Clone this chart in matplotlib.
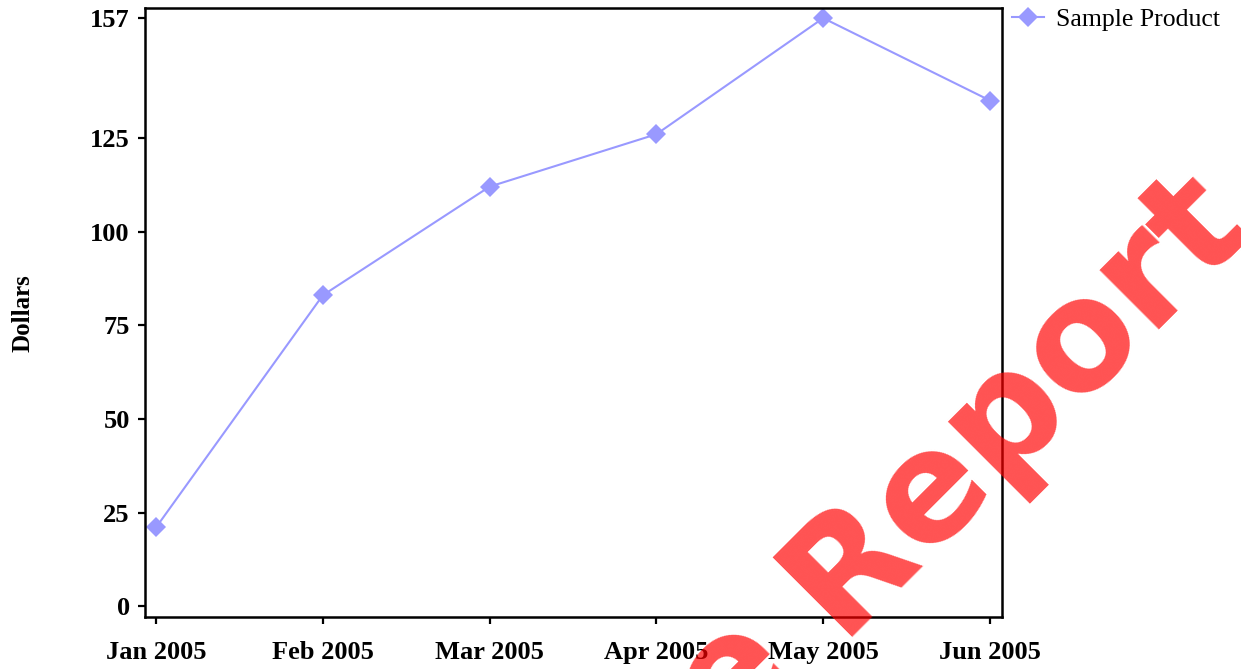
import numpy as np
import matplotlib.pyplot as plt

months = ["Jan 2005", "Feb 2005", "Mar 2005", "Apr 2005", "May 2005", "Jun 2005"]
dollars = [21, 83, 112, 126, 157, 135]
y_ticks = [0, 25, 50, 75, 100, 125, 157]
series_name = "Sample Product"

plt.rcParams['font.family'] = ['Liberation Serif', 'DejaVu Serif']

fig = plt.figure(figsize=(12.41, 6.69), dpi=100)
ax = fig.add_axes([145 / 1241, 1 - 617 / 669, 857 / 1241, 609 / 669])

x = np.arange(len(months))
ax.plot(x, dollars, color='#9999ff', linewidth=1.5, marker='D', markersize=10,
        markeredgewidth=0, label=series_name)

ax.set_xlim(-0.066, len(months) - 1 + 0.072)
ax.set_ylim(-2.9, 159.7)
ax.set_xticks(x)
ax.set_xticklabels(months)
ax.set_yticks(y_ticks)

for s in ax.spines.values():
    s.set_linewidth(1.8)
ax.tick_params(direction='out', length=5, width=1.6, labelsize=19)
ax.tick_params(axis='x', pad=12)
ax.tick_params(axis='y', pad=6)
for lbl in ax.get_xticklabels() + ax.get_yticklabels():
    lbl.set_fontweight('bold')

fig.text(23 / 1241, 1 - 313 / 669, "Dollars", rotation=90, ha='center', va='center',
         fontsize=18, fontweight='bold')

ax.legend(loc='upper left', bbox_to_anchor=(0.991, 1.030), frameon=False, fontsize=18.5,
          handlelength=1.25, handletextpad=0.45, borderaxespad=0.3)

# watermark across the lower right
wx, wy = 838 / 1241, 1 - 636 / 669
wm = dict(rotation=45, rotation_mode='anchor', va='baseline', color='red', alpha=0.68,
          fontsize=110, fontweight='bold', family='DejaVu Sans', zorder=10)
fig.text(wx, wy, "Report", ha='left', **wm)
fig.text(wx, wy, "Sample ", ha='right', **wm)

fig.savefig("out.png", dpi=100)
